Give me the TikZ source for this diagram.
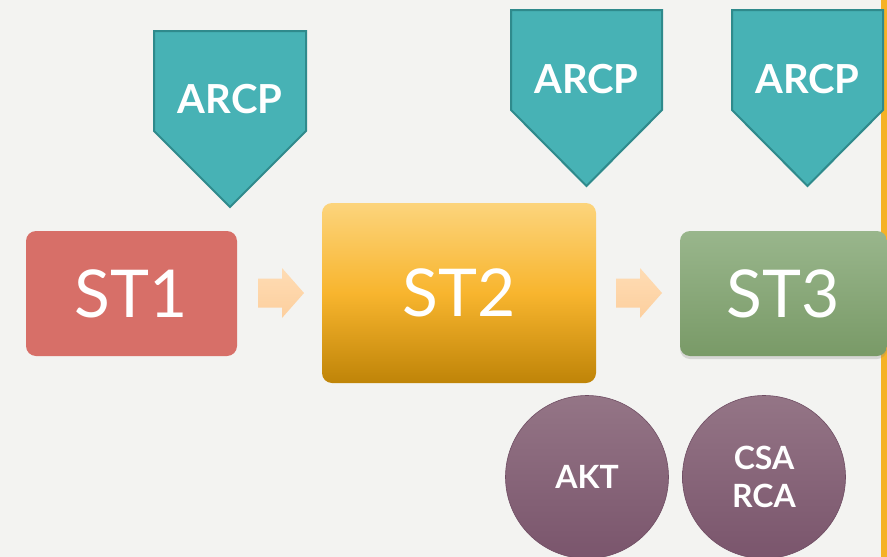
\documentclass[tikz,border=0pt]{standalone}
\usepackage{fontspec}
\setmainfont{Lato}
\usetikzlibrary{shadows}
\definecolor{bg}{HTML}{F3F3F1}
\definecolor{edge}{HTML}{F5B226}
\definecolor{stone}{HTML}{D76F68}
\definecolor{sttwoA}{HTML}{FCD47C}
\definecolor{sttwoB}{HTML}{F8B52E}
\definecolor{sttwoC}{HTML}{BF8408}
\definecolor{stthreeA}{HTML}{99B68C}
\definecolor{stthreeB}{HTML}{799A67}
\definecolor{arcpfill}{HTML}{47B2B5}
\definecolor{arcpline}{HTML}{2F8A8C}
\definecolor{peachA}{HTML}{FEDCB4}
\definecolor{peachB}{HTML}{FDCF9E}
\definecolor{plumA}{HTML}{947586}
\definecolor{plumB}{HTML}{7A556C}
\definecolor{plumline}{HTML}{6E4C62}
\tikzset{
  stagebox/.style={rounded corners=10pt, inner sep=0pt, text=white,
    font=\fontsize{66}{70}\selectfont},
  arcpshape/.style={fill=arcpfill, draw=arcpline, line width=2pt, line join=miter},
  arcptext/.style={text=white, font=\bfseries\fontsize{40}{44}\selectfont, inner sep=0pt},
  flowarrow/.style={top color=peachA, bottom color=peachB, draw=none},
  exambubble/.style={circle, minimum size=163pt, inner sep=0pt, top color=plumA,
    bottom color=plumB, draw=plumline, line width=0.6pt, text=white,
    font=\bfseries\fontsize{32}{38}\selectfont, align=center},
}
\begin{document}
\begin{tikzpicture}[x=1pt,y=-1pt]
\fill[bg] (0,0) rectangle (887,557);
\useasboundingbox (0,0) rectangle (887,557);
\fill[edge] (881,0) rectangle (887,557);
% pentagons
\path[arcpshape] (154,31) -- (306,31) -- (306,131) -- (230,207) -- (154,131) -- cycle;
\path[arcpshape] (511,10) -- (662,10) -- (662,110) -- (586.5,186) -- (511,110) -- cycle;
\path[arcpshape] (732,10) -- (883,10) -- (883,110) -- (807.5,186) -- (732,110) -- cycle;
\node[arcptext] (a1) at (230,99) {ARCP};
\node[arcptext] (a2) at (586.5,79) {ARCP};
\node[arcptext] (a3) at (807.5,79) {ARCP};
% stages
\node[stagebox, fill=stone, minimum width=211pt, minimum height=125pt] (s1) at (131.5,293.5) {ST1};
\node[stagebox, top color=sttwoA, bottom color=sttwoC, middle color=sttwoB,
  minimum width=274pt, minimum height=180pt] (s2) at (459,293) {ST2};
\node[stagebox, top color=stthreeA, bottom color=stthreeB,
  drop shadow={opacity=0.25, shadow xshift=0pt, shadow yshift=-3pt},
  minimum width=207pt, minimum height=125pt] (s3) at (783.5,293.5) {ST3};
% arrows
\path[flowarrow] (258,278.5) -- (282,278.5) -- (282,268) -- (304,293) -- (282,318) -- (282,307.5) -- (258,307.5) -- cycle;
\path[flowarrow] (616,278.5) -- (640,278.5) -- (640,268) -- (662,293) -- (640,318) -- (640,307.5) -- (616,307.5) -- cycle;
% bubbles
\node[exambubble] (akt) at (587,477) {AKT};
\node[exambubble] (csa) at (764,477) {CSA\\RCA};
\end{tikzpicture}
\end{document}
